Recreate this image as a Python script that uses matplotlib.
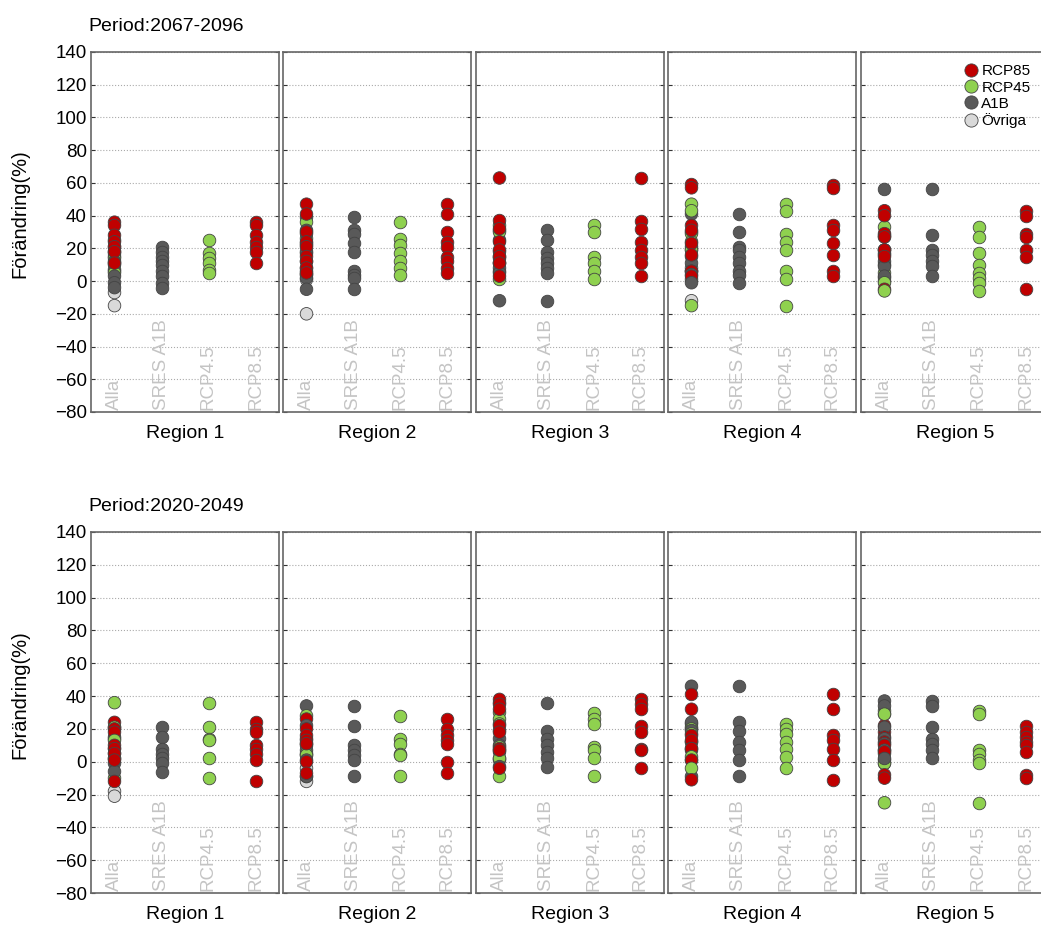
import numpy as np
import matplotlib.pyplot as plt

plt.rcParams['font.family'] = ['Liberation Sans', 'DejaVu Sans']

regions = ["Region 1", "Region 2", "Region 3", "Region 4", "Region 5"]
columns = ["Alla", "SRES A1B", "RCP4.5", "RCP8.5"]
periods = ["Period:2067-2096", "Period:2020-2049"]

# Period 2067-2096, one list per region
rcp85_late = [[36, 34, 28, 24, 21, 18, 11],
              [47, 41, 30, 24, 21, 15, 12, 8, 5],
              [63, 37, 32, 24, 19, 15, 11, 3],
              [59, 57, 34, 31, 23, 16, 6, 3],
              [43, 40, 29, 27, 19, 15, -5]]
rcp45_late = [[25, 17, 14, 11, 7, 5],
              [36, 26, 22, 17, 12, 8, 4],
              [34, 30, 15, 11, 6, 1],
              [47, 43, 29, 24, 19, 6, 1, -15],
              [33, 27, 17, 10, 5, 2, -1, -6]]
a1b_late = [[21, 18, 15, 12, 10, 6, 3, -1, -4],
            [39, 31, 29, 23, 18, 6, 4, 2, -5],
            [31, 25, 18, 14, 11, 8, 5, -12],
            [41, 30, 21, 19, 15, 11, 6, 4, -1],
            [56, 28, 19, 16, 12, 9, 3]]
ovriga_late = [[-7, -15], [1, -20], [], [8, -12], [19, 0]]

# Period 2020-2049
rcp85_early = [[24, 20, 18, 10, 8, 5, 1, -12],
               [26, 20, 16, 13, 11, 0, -7],
               [38, 35, 32, 22, 18, 8, 7, -4],
               [41, 32, 16, 13, 8, 1, -11],
               [22, 18, 15, 12, 10, 6, -8, -10]]
rcp45_early = [[36, 21, 14, 13, 2, -10],
               [28, 14, 11, 5, 4, -9],
               [30, 26, 23, 9, 7, 2, -9],
               [23, 20, 17, 12, 8, 3, -4],
               [31, 29, 7, 5, 1, -1, -25]]
a1b_early = [[21, 15, 8, 5, 2, -1, -6],
             [34, 22, 10, 7, 4, 1, -9],
             [36, 19, 14, 10, 6, 2, -3],
             [46, 24, 19, 12, 7, 1, -9],
             [37, 34, 21, 14, 11, 7, 2]]
ovriga_early = [[-18, -21], [-4, -12], [1], [21], [29, -1]]

series_names = ["RCP85", "RCP45", "A1B", "Övriga"]
colors = ["#c00000", "#8fd14f", "#595959", "#d9d9d9"]
# column index used by each series besides "Alla"
own_col = [3, 2, 1, None]

W, H = 1041, 925
fig = plt.figure(figsize=(W / 100, H / 100), dpi=100)

lefts = [91, 283, 476, 668, 861]
pw = 188
rows = [(52, 412), (532, 893)]
data = [[rcp85_late, rcp45_late, a1b_late, ovriga_late],
        [rcp85_early, rcp45_early, a1b_early, ovriga_early]]

for r, (top, bot) in enumerate(rows):
    for k, left in enumerate(lefts):
        ax = fig.add_axes([left / W, 1 - bot / H, pw / W, (bot - top) / H])
        ax.set_xlim(0.5, 4.5)
        ax.set_ylim(-80, 140)
        ax.set_yticks(np.arange(-80, 141, 20))
        ax.set_xticks([])
        ax.grid(axis='y', linestyle=':', color='#aaaaaa', linewidth=0.8)
        ax.set_axisbelow(True)
        for s in ax.spines.values():
            s.set_color('#666666')
            s.set_linewidth(1.2)
        ax.tick_params(axis='y', direction='in', length=3, right=True,
                       color='#333333', labelsize=13.5, pad=3)
        if k > 0:
            ax.tick_params(labelleft=False)
        else:
            ax.set_ylabel("Förändring(%)", fontsize=14.5, labelpad=2)
            ax.yaxis.set_label_coords(-0.33, 0.55)
            ax.text(-0.015, 1.048, periods[r], transform=ax.transAxes,
                    fontsize=14, ha='left', va='bottom')
        for i, lab in enumerate(columns):
            ax.text(i + 1, -79, lab, rotation=90, ha='center', va='bottom',
                    color='#c4c4c4', fontsize=13.5)
        ax.text(0.5, -0.035, regions[k], transform=ax.transAxes,
                ha='center', va='top', fontsize=14)

        # "Alla" column: all models, drawn interleaved so colours mix
        vals_all, cols_all, rank = [], [], []
        for j in range(4):
            vals = data[r][j][k]
            vals_all += list(vals)
            cols_all += [colors[j]] * len(vals)
            rank += [n * 4 + (3 - j) for n in range(len(vals))]
        order = np.argsort(rank, kind='stable')
        ax.scatter(np.ones(len(order)), np.array(vals_all)[order], s=82,
                   c=[cols_all[o] for o in order], edgecolors='#444444',
                   linewidths=0.6, zorder=3)

        for j in range(4):
            vals = data[r][j][k]
            if own_col[j] is None or len(vals) == 0:
                continue
            ax.scatter(np.full(len(vals), own_col[j] + 1), vals, s=82,
                       c=colors[j], edgecolors='#444444', linewidths=0.6,
                       zorder=3)
        if r == 0 and k == 4:
            handles = [plt.Line2D([], [], marker='o', linestyle='none',
                                  markersize=9.5, markerfacecolor=c,
                                  markeredgecolor='#444444', markeredgewidth=0.6)
                       for c in colors]
            ax.legend(handles, series_names, loc='upper left',
                      bbox_to_anchor=(0.47, 1.0), frameon=False, fontsize=11,
                      handletextpad=0.1, labelspacing=0.15, borderpad=0.3,
                      handlelength=1.2)

fig.savefig("out.png", dpi=100)
